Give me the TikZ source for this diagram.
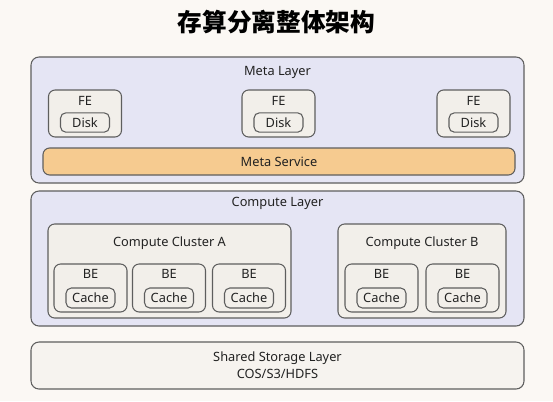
\documentclass[tikz,border=0pt]{standalone}
\usepackage{fontspec}
\setmainfont{Noto Sans}
\newfontfamily\cjk{Noto Sans CJK SC}
\usetikzlibrary{fit}

\definecolor{bakgrund}{HTML}{FBF8F4}
\definecolor{kant}{HTML}{5E5E5E}
\definecolor{lagerfarg}{HTML}{E5E5F4}
\definecolor{rutfarg}{HTML}{F2EFEA}
\definecolor{tjanstfarg}{HTML}{F6CB90}
\definecolor{lagringsfarg}{HTML}{F6F3EF}
\definecolor{textfarg}{HTML}{222222}

\begin{document}
\begin{tikzpicture}[x=0.75pt, y=-0.75pt,
    lager/.style={draw=kant, fill=lagerfarg, line width=0.8pt, rounded corners=6pt, inner sep=0pt},
    kluster/.style={draw=kant, fill=rutfarg, line width=0.8pt, rounded corners=5pt, inner sep=0pt},
    ruta/.style={draw=kant, fill=rutfarg, line width=0.8pt, rounded corners=5pt, inner sep=0pt},
    inre/.style={draw=kant, fill=rutfarg, line width=0.8pt, rounded corners=4pt, inner sep=0pt,
        minimum width=36.75pt, minimum height=14.5pt, text=textfarg, font=\fontsize{9.6}{11}\selectfont},
    etikett/.style={text=textfarg, font=\fontsize{9.6}{11}\selectfont, inner sep=0pt}]
    \fill[bakgrund] (0,0) rectangle (553,401); % Bakgrund
    \useasboundingbox (0,0) rectangle (553,401);

    \node[text=black, inner sep=0pt, font=\cjk\bfseries\fontsize{18.5}{20}\selectfont] (rubrik) at (276.5,22) {存算分离整体架构};

    % Meta layer
    \node[lager, fit={(31,57) (524,183)}] (meta) {};
    \node[etikett] (metarubrik) at (277.5,72) {Meta Layer};
    \foreach \x [count=\i] in {85, 278.5, 473.5} {
        \node[ruta, minimum width=54.75pt, minimum height=35.25pt] (fe\i) at (\x,113.5) {};
        \node[etikett] (fetext\i) at (\x,101) {FE};
        \node[inre] (disk\i) at (\x,122.5) {Disk};
    }
    \node[draw=kant, fill=tjanstfarg, line width=0.8pt, rounded corners=5pt, inner sep=0pt,
        fit={(43,148) (515,175)}] (tjanst) {};
    \node[etikett] (tjansttext) at (tjanst.center) {Meta Service};

    % Compute layer
    \node[lager, fit={(31,191) (524,326)}] (compute) {};
    \node[etikett] (computerubrik) at (277.5,203) {Compute Layer};
    \node[kluster, fit={(48,224) (291,318)}] (klusterA) {};
    \node[etikett] (klusterAtext) at (169.5,243.5) {Compute Cluster A};
    \node[kluster, fit={(338,224) (506,318)}] (klusterB) {};
    \node[etikett] (klusterBtext) at (422,243.5) {Compute Cluster B};
    \foreach \x/\n in {90.5/a1, 169/a2, 249/a3, 381.5/b1, 462.5/b2} {
        \node[ruta, minimum width=54.75pt, minimum height=36pt] (be\n) at (\x,288) {};
        \node[etikett] (betext\n) at (\x,274) {BE};
        \node[inre, minimum height=15pt] (cache\n) at (\x,298) {Cache};
    }

    % Shared storage
    \node[draw=kant, fill=lagringsfarg, line width=0.8pt, rounded corners=6pt, inner sep=0pt,
        fit={(31,342) (524,389)}] (lagring) {};
    \node[etikett] (lagringtext) at (277.5,358) {Shared Storage Layer};
    \node[etikett] (lagringtyp) at (277.5,374) {COS/S3/HDFS};
\end{tikzpicture}
\end{document}
